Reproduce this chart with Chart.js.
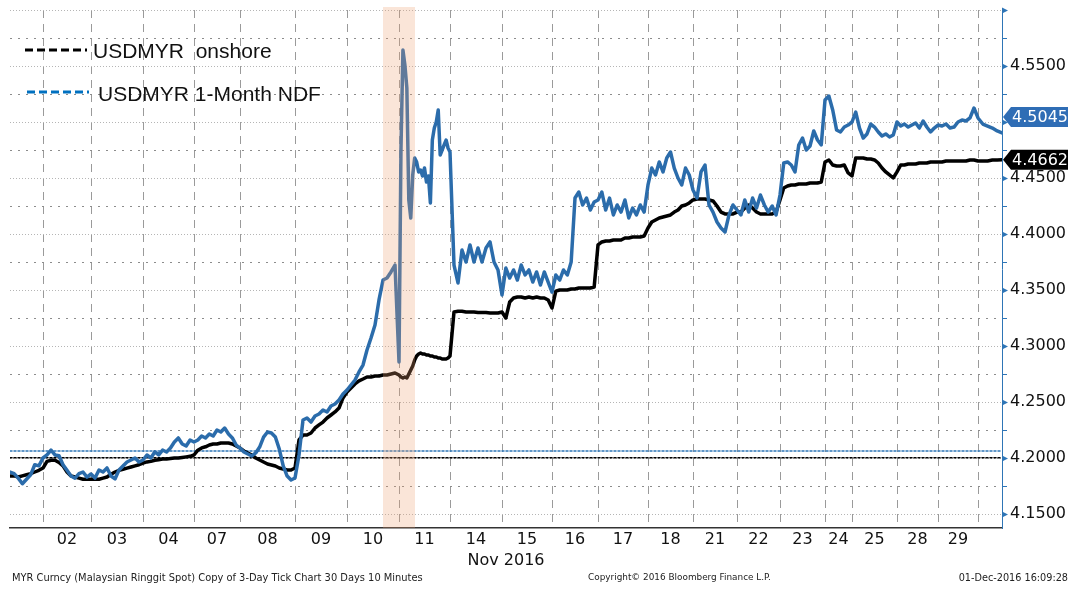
<!DOCTYPE html>
<html>
<head>
<meta charset="utf-8">
<script src="https://cdn.jsdelivr.net/npm/chart.js@4.4.1/dist/chart.umd.min.js"></script>
<style>
  html, body { margin: 0; padding: 0; background: #fff; }
</style>
</head>
<body>
<canvas id="myr" width="1076" height="589"></canvas>
<script>
// trading days in Nov 2016 and how many 10-minute bars each one takes on the tick chart
const days = ['01','02','03','04','07','08','09','10','11','14','15','16','17','18','21','22','23','24','25','28','29','30'];
const dayBars = [33,48,52,51,46,55,52,52,51,52,50,46,50,45,44,43,45,27,45,41,40,24];

// USDMYR onshore, sampled evenly through each day
const onshore = [
    [4.184,4.184,4.183,4.184,4.185,4.186,4.1875,4.189],
    [4.191,4.197,4.198,4.198,4.196,4.193,4.1875,4.184,4.183,4.182,4.181,4.181],
    [4.181,4.181,4.181,4.182,4.183,4.1855,4.1875,4.189,4.19,4.191,4.192,4.193,4.194],
    [4.1955,4.1965,4.197,4.198,4.1985,4.199,4.199,4.1995,4.2,4.2,4.2005,4.201,4.2015],
    [4.2027,4.207,4.209,4.21,4.2116,4.2125,4.2125,4.2134,4.2134,4.2134,4.2125,4.2107],
    [4.2089,4.2063,4.2045,4.2027,4.2,4.1982,4.1964,4.1946,4.1938,4.1929,4.1911,4.1902,4.1893,4.1893],
    [4.1911,4.2161,4.2205,4.2205,4.2223,4.2268,4.2295,4.2321,4.2357,4.2384,4.2411,4.2446,4.2536],
    [4.2589,4.2625,4.2661,4.2688,4.2705,4.2723,4.2723,4.2732,4.2732,4.2741,4.2741,4.275,4.2759],
    [4.2741,4.2723,4.2714,4.2723,4.2714,4.275,4.2786,4.2821,4.2875,4.2911,4.2929,4.2938,4.2929,4.2929,4.292,4.292,4.2911,4.2911,4.2902,4.2902,4.2893,4.2893,4.2884,4.2884,4.2884,4.2893],
    [4.2911,4.3304,4.331,4.331,4.3304,4.3304,4.3304,4.33,4.33,4.33,4.3295,4.3295,4.3295],
    [4.3304,4.325,4.3393,4.3429,4.3438,4.3438,4.3429,4.3438,4.3429,4.3438,4.3429,4.3429,4.3411],
    [4.3339,4.349,4.35,4.35,4.35,4.3509,4.3509,4.3518,4.3518,4.3518,4.3518,4.3527],
    [4.3902,4.3929,4.3938,4.3938,4.3946,4.3946,4.3946,4.3964,4.3964,4.3973,4.3973,4.3973,4.3982],
    [4.4054,4.4107,4.4125,4.4143,4.4152,4.4161,4.417,4.4196,4.4214,4.425,4.4259,4.4277],
    [4.4304,4.4313,4.4313,4.4313,4.4304,4.4295,4.425,4.4196,4.4179,4.4179,4.4179],
    [4.4196,4.4196,4.4232,4.4259,4.4232,4.4196,4.4179,4.4179,4.4179,4.4179,4.4196],
    [4.4304,4.4411,4.4429,4.4438,4.4438,4.4446,4.4446,4.4446,4.4455,4.4455,4.4455,4.4464],
    [4.4643,4.4661,4.4616,4.4607,4.4607,4.4616,4.4545],
    [4.4518,4.4679,4.4679,4.4679,4.467,4.467,4.4661,4.4634,4.4589,4.4554,4.4527,4.45],
    [4.4554,4.4616,4.4616,4.4625,4.4625,4.4625,4.4634,4.4634,4.4634,4.4643,4.4643],
    [4.4643,4.4643,4.4652,4.4652,4.4652,4.4652,4.4652,4.4652,4.4661,4.4661],
    [4.4652,4.4652,4.4652,4.4661,4.4661,4.4662]
];

// USDMYR 1-month NDF
const ndf = [
    [4.1875,4.186,4.182,4.177,4.181,4.185,4.194,4.193],
    [4.2,4.2027,4.207,4.2027,4.202,4.194,4.189,4.184,4.182,4.186,4.1875,4.183],
    [4.1857,4.1821,4.1893,4.1875,4.1911,4.1839,4.1813,4.1893,4.1929,4.1964,4.1982,4.2,4.1964],
    [4.1982,4.2027,4.2,4.2054,4.2027,4.2071,4.2054,4.2089,4.2143,4.2179,4.2125,4.2107,4.2161],
    [4.2143,4.2161,4.2196,4.2179,4.2214,4.2196,4.225,4.2232,4.2268,4.2214,4.2179,4.2116],
    [4.2089,4.2054,4.2036,4.2018,4.2045,4.2098,4.2187,4.2232,4.2223,4.2187,4.208,4.1929,4.1839,4.1804],
    [4.1821,4.2027,4.2339,4.2357,4.2321,4.2375,4.2393,4.2429,4.2411,4.2464,4.2482,4.2518,4.2571],
    [4.2607,4.2652,4.2696,4.2768,4.283,4.2964,4.3071,4.3188,4.3411,4.3589,4.3607,4.3661,4.3723],
    [4.2857,4.475,4.5643,4.5509,4.5304,4.4304,4.4143,4.4527,4.4679,4.4643,4.4554,4.4571,4.4518,4.4589,4.4464,4.4518,4.4277,4.4839,4.4946,4.5,4.5107,4.4705,4.475,4.4795,4.4839,4.4768],
    [4.4732,4.3723,4.3563,4.3857,4.375,4.3902,4.375,4.3875,4.375,4.3875,4.3929,4.375,4.3679],
    [4.3455,4.3696,4.3607,4.3679,4.3589,4.3723,4.3634,4.3679,4.3571,4.3661,4.3545,4.3661,4.3571],
    [4.3482,4.3634,4.3589,4.3679,4.3634,4.375,4.4321,4.4375,4.4259,4.4321,4.4214,4.4286],
    [4.4304,4.4375,4.4214,4.4321,4.417,4.4259,4.4196,4.4304,4.4143,4.4232,4.417,4.4259,4.4196],
    [4.4438,4.4589,4.4527,4.4643,4.4554,4.4679,4.4732,4.4589,4.45,4.4438,4.4589,4.4527],
    [4.4393,4.4321,4.4554,4.4616,4.4259,4.4196,4.4107,4.4054,4.4018,4.417,4.4259],
    [4.4214,4.417,4.4304,4.4196,4.4321,4.4232,4.4348,4.4259,4.4196,4.425,4.417],
    [4.4348,4.4634,4.4643,4.4616,4.4554,4.4795,4.4857,4.475,4.4786,4.492,4.4839,4.4795],
    [4.5196,4.5232,4.5107,4.4929,4.4911,4.4955,4.4973],
    [4.5,4.5089,4.4946,4.4857,4.4893,4.4982,4.4955,4.4911,4.4875,4.4893,4.4866,4.4884],
    [4.5,4.4964,4.4982,4.4955,4.4973,4.4991,4.4946,4.5009,4.4955,4.4911,4.4946],
    [4.4973,4.4964,4.4982,4.4946,4.4955,4.5,4.5018,4.5009,4.5036,4.5125],
    [4.5036,4.4982,4.4964,4.4946,4.492,4.4902]
];

const onshoreLast = 4.4662;
const ndfLast = 4.5045;
const onshorePrevClose = 4.2002;
const ndfPrevClose = 4.2063;
const highlightBars = [373, 405]; // shaded window around the 10/11 Nov spike
const yTicks = [4.15,4.175,4.2,4.225,4.25,4.275,4.3,4.325,4.35,4.375,4.4,4.425,4.45,4.475,4.5,4.525,4.55,4.575,4.6];
const yLabels = [4.15,4.2,4.25,4.3,4.35,4.4,4.45,4.5,4.55];

const BLUE = '#2b6cab';
const AXIS_BLUE = '#2e75b6';

const dayStart = [];
let total = 0;
dayBars.forEach(n => { dayStart.push(total); total += n; });

const toPoints = (perDay) => {
    const pts = [];
    perDay.forEach((vals, d) => {
        const lastDay = d === perDay.length - 1;
        const step = dayBars[d] / (lastDay ? vals.length - 1 : vals.length);
        vals.forEach((v, i) => pts.push({ x: dayStart[d] + i * step, y: v }));
    });
    return pts;
};

const boundaries = dayStart.slice(1);
const dayCenters = {};
days.forEach((d, i) => {
    if (i > 0 && i < days.length - 1) dayCenters[dayStart[i] + dayBars[i] / 2] = d;
});
const isBoundary = v => boundaries.includes(v);

const overlays = {
    id: 'overlays',
    beforeDatasetsDraw(chart) {
        const { ctx, chartArea: a, scales: { y } } = chart;
        ctx.save();
        yTicks.forEach(v => {
            const py = Math.round(y.getPixelForValue(v)) + 0.5;
            const major = yLabels.includes(v) || v === 4.6;
            ctx.setLineDash(major ? [1, 2] : [2, 6]);
            ctx.strokeStyle = major ? '#b5b5b5' : '#8c8c8c';
            ctx.lineWidth = 1;
            ctx.beginPath();
            ctx.moveTo(a.left, py);
            ctx.lineTo(a.right, py);
            ctx.stroke();
        });
        ctx.restore();
    },
    afterDatasetsDraw(chart) {
        const { ctx, chartArea: a, scales: { x } } = chart;
        const x1 = x.getPixelForValue(highlightBars[0]);
        const x2 = x.getPixelForValue(highlightBars[1]);
        ctx.save();
        ctx.fillStyle = 'rgba(235,160,110,0.27)';
        ctx.fillRect(x1, a.top - 3, x2 - x1, a.bottom - a.top + 3);
        ctx.restore();
    },
    afterDraw(chart) {
        const { ctx, chartArea: a, scales: { y } } = chart;
        ctx.save();

        // axis tick marks on the right
        ctx.fillStyle = AXIS_BLUE;
        ctx.strokeStyle = AXIS_BLUE;
        ctx.lineWidth = 1;
        yTicks.forEach(v => {
            const py = Math.round(y.getPixelForValue(v)) + 0.5;
            if (yLabels.includes(v) || v === 4.6) {
                ctx.beginPath();
                ctx.moveTo(a.right, py - 3);
                ctx.lineTo(a.right + 6, py);
                ctx.lineTo(a.right, py + 3);
                ctx.closePath();
                ctx.fill();
            } else {
                ctx.beginPath();
                ctx.moveTo(a.right, py);
                ctx.lineTo(a.right + 5, py);
                ctx.stroke();
            }
        });

        // last value tags
        const tag = (value, color) => {
            const py = y.getPixelForValue(value);
            const l = a.right + 1;
            ctx.fillStyle = color;
            ctx.beginPath();
            ctx.moveTo(l, py);
            ctx.lineTo(l + 8, py - 10);
            ctx.lineTo(1068, py - 10);
            ctx.lineTo(1068, py + 10);
            ctx.lineTo(l + 8, py + 10);
            ctx.closePath();
            ctx.fill();
            ctx.fillStyle = '#fff';
            ctx.font = '16px "DejaVu Sans"';
            ctx.textAlign = 'left';
            ctx.textBaseline = 'middle';
            ctx.fillText(value.toFixed(4), l + 9, py + 1);
        };
        tag(ndfLast, '#2f6db5');
        tag(onshoreLast, '#000');

        // legend
        ctx.lineWidth = 3;
        ctx.setLineDash([8, 4]);
        ctx.strokeStyle = '#000';
        ctx.beginPath(); ctx.moveTo(25, 50); ctx.lineTo(87, 50); ctx.stroke();
        ctx.strokeStyle = '#0070c0';
        ctx.beginPath(); ctx.moveTo(27, 92); ctx.lineTo(89, 92); ctx.stroke();
        ctx.setLineDash([]);
        ctx.fillStyle = '#111';
        ctx.font = '21px "Liberation Sans"';
        ctx.textAlign = 'left';
        ctx.textBaseline = 'middle';
        ctx.fillText('USDMYR  onshore', 93, 52);
        ctx.fillText('USDMYR 1-Month NDF', 98, 95);

        // footer
        ctx.fillStyle = '#222';
        ctx.font = '9.9px "DejaVu Sans"';
        ctx.fillText('MYR Curncy (Malaysian Ringgit Spot) Copy of 3-Day Tick Chart 30 Days 10 Minutes', 12, 578);
        ctx.font = '8.9px "DejaVu Sans"';
        ctx.fillText('Copyright\u00a9 2016 Bloomberg Finance L.P.', 588, 578);
        ctx.font = '9.7px "DejaVu Sans"';
        ctx.textAlign = 'right';
        ctx.fillText('01-Dec-2016 16:09:28', 1068, 578);
        ctx.restore();
    }
};

new Chart(document.getElementById('myr'), {
    type: 'line',
    data: {
        datasets: [
            { label: 'USDMYR 1-Month NDF', data: toPoints(ndf), borderColor: BLUE, borderWidth: 3.5, order: 0 },
            { label: 'USDMYR  onshore', data: toPoints(onshore), borderColor: '#000', borderWidth: 3.5, order: 1 },
            { data: [{ x: 0, y: ndfPrevClose }, { x: total, y: ndfPrevClose }], borderColor: AXIS_BLUE, borderWidth: 1.5, borderDash: [2, 2], order: 2 },
            { data: [{ x: 0, y: onshorePrevClose }, { x: total, y: onshorePrevClose }], borderColor: '#000', borderWidth: 1.5, borderDash: [2, 2], order: 3 }
        ]
    },
    plugins: [overlays],
    options: {
        responsive: false,
        animation: false,
        layout: { padding: { left: 10, top: 10, right: 0, bottom: 0 } },
        elements: {
            point: { radius: 0 },
            line: { tension: 0, borderJoinStyle: 'round', borderCapStyle: 'round' }
        },
        plugins: { legend: { display: false }, tooltip: { enabled: false } },
        scales: {
            x: {
                type: 'linear',
                min: 0,
                max: total,
                afterBuildTicks: (scale) => {
                    const vals = boundaries.concat(Object.keys(dayCenters).map(Number)).sort((p, q) => p - q);
                    scale.ticks = vals.map(v => ({ value: v }));
                },
                afterFit: (scale) => { scale.height = 61; },
                ticks: {
                    autoSkip: false,
                    maxRotation: 0,
                    padding: 2,
                    color: '#111',
                    font: { family: 'DejaVu Sans', size: 16 },
                    callback: (v) => dayCenters[v] || ''
                },
                grid: {
                    drawTicks: false,
                    color: (c) => (c.tick && isBoundary(c.tick.value)) ? '#9a9a9a' : 'rgba(0,0,0,0)',
                    lineWidth: 1
                },
                border: { color: '#333', width: 1.5, dash: [8, 6] },
                title: {
                    display: true,
                    text: 'Nov 2016',
                    color: '#111',
                    font: { family: 'DejaVu Sans', size: 16 },
                    padding: { top: 0, bottom: 19 }
                }
            },
            y: {
                position: 'right',
                min: 4.1375,
                max: 4.6,
                afterBuildTicks: (scale) => { scale.ticks = yTicks.map(v => ({ value: v })); },
                afterFit: (scale) => {
                    scale.width = 74;
                    scale.paddingTop = 0;
                    scale.paddingBottom = 0;
                },
                ticks: {
                    padding: 8,
                    color: '#111',
                    font: { family: 'DejaVu Sans', size: 16 },
                    callback: (v) => yLabels.includes(v) ? v.toFixed(4) : ''
                },
                grid: { drawOnChartArea: false, drawTicks: false },
                border: { color: AXIS_BLUE, width: 1 }
            }
        }
    }
});
</script>
</body>
</html>
